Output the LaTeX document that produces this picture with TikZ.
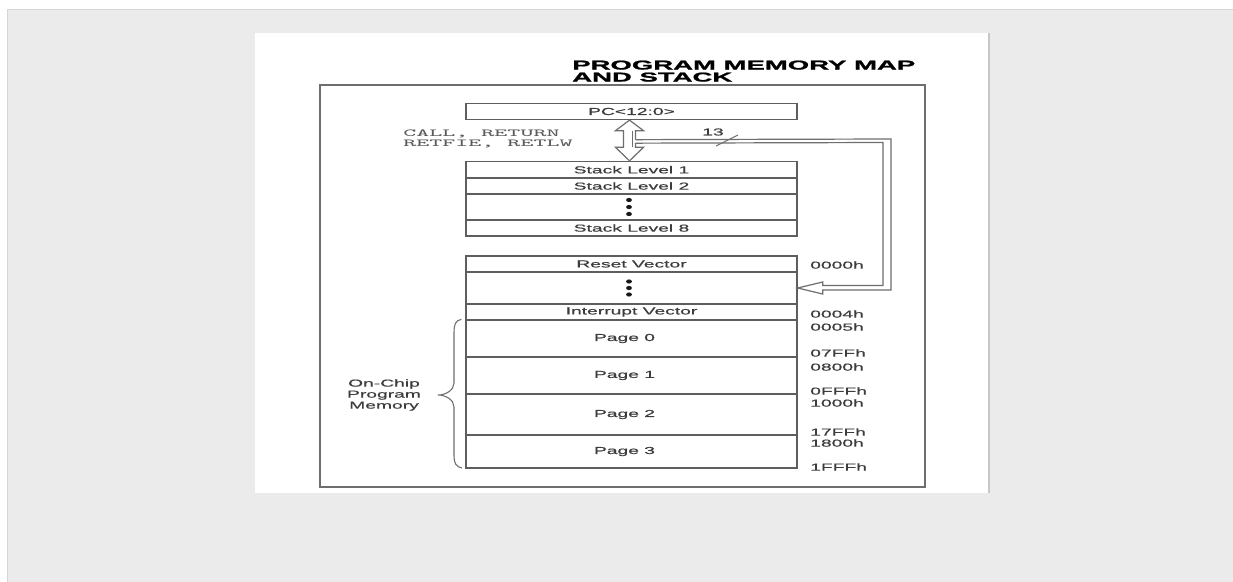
\documentclass[tikz,border=0pt]{standalone}
\usepackage{fontspec}
\usetikzlibrary{calc}
\setmainfont{Liberation Sans}
\newfontfamily\lblfont[FakeStretch=1.9,FakeBold=0.6]{Liberation Sans}
\newfontfamily\ttlfont[FakeStretch=2.15,FakeBold=1.6]{Liberation Sans}

\definecolor{bggray}{HTML}{EBEBEB}
\definecolor{edgegray}{HTML}{D6D6D6}
\definecolor{boxgray}{HTML}{5E5E5E}
\definecolor{arrgray}{HTML}{6E6E6E}
\definecolor{txtgray}{HTML}{3C3C3C}
\definecolor{codegray}{HTML}{5A5A5A}

\newcommand\lbl{\lblfont\fontsize{7.6}{8.25}\selectfont}
\newcommand\codetxt[1]{\scalebox{2.3}[1]{\ttfamily\fontsize{8}{9}\selectfont #1}}

\tikzset{
  cell/.style={draw=boxgray, line width=1pt, minimum width=331*0.75pt,
    inner sep=0pt, font=\lbl, text=txtgray},
  hollow/.style={draw=arrgray, line width=0.9pt, line join=miter},
  addr/.style={anchor=west, inner sep=0pt, font=\lbl, text=txtgray},
  memdot/.style={fill=black!90}
}

\begin{document}
\begin{tikzpicture}[x=0.75pt, y=-0.75pt]
  % canvas and page
  \useasboundingbox (0,0) rectangle (1233,582);
  \fill[white] (0,0) rectangle (1233,582);
  \fill[bggray] (7,9) rectangle (1233,582);
  \draw[edgegray, line width=0.6pt] (7,582) -- (7,9) -- (1233,9);
  \fill[white] (255,33) rectangle (989,493);
  \draw[black!22, line width=1.2pt] (989,33) -- (989,493);

  % outer frame and title
  \draw[arrgray, line width=1.2pt] (320,85) rectangle (925,487);
  \node[anchor=base west, inner sep=0pt, font=\ttlfont\bfseries\fontsize{9.6}{9.6}\selectfont]
    (title1) at (572,69.5) {PROGRAM MEMORY MAP};
  \node[anchor=base west, inner sep=0pt, font=\ttlfont\bfseries\fontsize{9.6}{9.6}\selectfont]
    (title2) at (572,81.5) {AND STACK};

  % program counter
  \node[cell, minimum height=16*0.75pt] (pc) at (631.5,111.5) {PC<12:0>};

  % stack
  \node[cell, minimum height=16.5*0.75pt] (s1) at (631.5,169.75) {Stack Level 1};
  \node[cell, minimum height=16*0.75pt]   (s2) at (631.5,186) {Stack Level 2};
  \node[cell, minimum height=26*0.75pt]   (sd) at (631.5,207) {};
  \node[cell, minimum height=16*0.75pt]   (s8) at (631.5,228) {Stack Level 8};
  \foreach \dy in {-7,0,7}
    \fill[memdot] ($(sd.center)+(-2.5,\dy)$) ellipse (2.9 and 2.1);

  % program memory
  \node[cell, minimum height=16*0.75pt] (rv) at (631.5,264) {Reset Vector};
  \node[cell, minimum height=32*0.75pt] (md) at (631.5,288) {};
  \node[cell, minimum height=16*0.75pt] (iv) at (631.5,312) {Interrupt Vector};
  \node[cell, minimum height=37*0.75pt] (p0) at (631.5,338.5) {};
  \node[cell, minimum height=37*0.75pt] (p1) at (631.5,375.5) {};
  \node[cell, minimum height=41*0.75pt] (p2) at (631.5,414.5) {};
  \node[cell, minimum height=33*0.75pt] (p3) at (631.5,451.5) {};
  \foreach \dy in {-6.5,0,6.5}
    \fill[memdot] ($(md.center)+(-2.5,\dy)$) ellipse (2.9 and 2.1);
  \node[font=\lbl, text=txtgray, inner sep=0pt] (p0t) at ($(p0.center)+(-7,0)$) {Page 0};
  \node[font=\lbl, text=txtgray, inner sep=0pt] (p1t) at ($(p1.center)+(-7,0)$) {Page 1};
  \node[font=\lbl, text=txtgray, inner sep=0pt] (p2t) at ($(p2.center)+(-7,0)$) {Page 2};
  \node[font=\lbl, text=txtgray, inner sep=0pt] (p3t) at ($(p3.center)+(-7,0)$) {Page 3};

  % addresses
  \node[addr] (a0) at (810,265) {0000h};
  \node[addr] (a1) at (810,314) {0004h};
  \node[addr] (a2) at (810,327) {0005h};
  \node[addr] (a3) at (810,353) {07FFh};
  \node[addr] (a4) at (810,367) {0800h};
  \node[addr] (a5) at (810,391) {0FFFh};
  \node[addr] (a6) at (810,403) {1000h};
  \node[addr] (a7) at (810,432) {17FFh};
  \node[addr] (a8) at (810,443) {1800h};
  \node[addr] (a9) at (810,467) {1FFFh};

  % on-chip program memory brace
  \draw[arrgray, line width=0.8pt]
    (p0.north west) ++(-4,0)
    .. controls ++(-6,1) and (454,325) .. (454,332) -- (454,383)
    .. controls (454,390) and (446,395) .. (438,395)
    .. controls (446,395) and (454,400) .. (454,407) -- (454,456)
    .. controls (454,463) and (456,467) .. (462,468);
  \node[font=\lbl, text=txtgray, align=center, inner sep=0pt] (ocm) at (384,395)
    {On-Chip\\Program\\Memory};

  % call/return instructions
  \node[anchor=base west, inner sep=0pt, text=codegray] (ins1) at (403,136) {\codetxt{CALL, RETURN}};
  \node[anchor=base west, inner sep=0pt, text=codegray] (ins2) at (403,146.5) {\codetxt{RETFIE, RETLW}};

  % bidirectional PC <-> stack arrow
  \coordinate (at) at ($(pc.south)+(-2,0)$);
  \coordinate (ab) at ($(s1.north)+(-2,0)$);
  \coordinate (jt) at ($(at)+(6,19.5)$);
  \coordinate (jb) at ($(at)+(6,23)$);
  \draw[hollow] (jt) -- ($(at)+(6,10.5)$) -- ($(at)+(14,10.5)$) -- (at)
    -- ($(at)+(-14,10.5)$) -- ($(at)+(-6,10.5)$) -- ($(ab)+(-6,-13.5)$)
    -- ($(ab)+(-14,-13.5)$) -- (ab) -- ($(ab)+(14,-13.5)$)
    -- ($(ab)+(6,-13.5)$) -- (jb);
  \draw[hollow, line width=0.6pt] ($(at)+(2.5,10.5)$) -- ($(ab)+(2.5,-13.5)$);

  % 13-bit path from PC to program memory
  \draw[hollow] (jt) -- (891,139) -- (891,290)
    -- ($(md.east)+(25,2)$) -- ($(md.east)+(25,6)$) -- (md.east)
    -- ($(md.east)+(25,-6)$) -- ($(md.east)+(25,-2.5)$)
    -- (883,285.5) -- (883,142.5) -- (jb);
  \coordinate (sl1) at (716,146);
  \coordinate (sl2) at (738,135);
  \draw[arrgray, line width=0.8pt] (sl1) -- (sl2);
  \node[font=\lbl, text=txtgray, inner sep=0pt] (w13) at (713,132) {13};
\end{tikzpicture}
\end{document}
